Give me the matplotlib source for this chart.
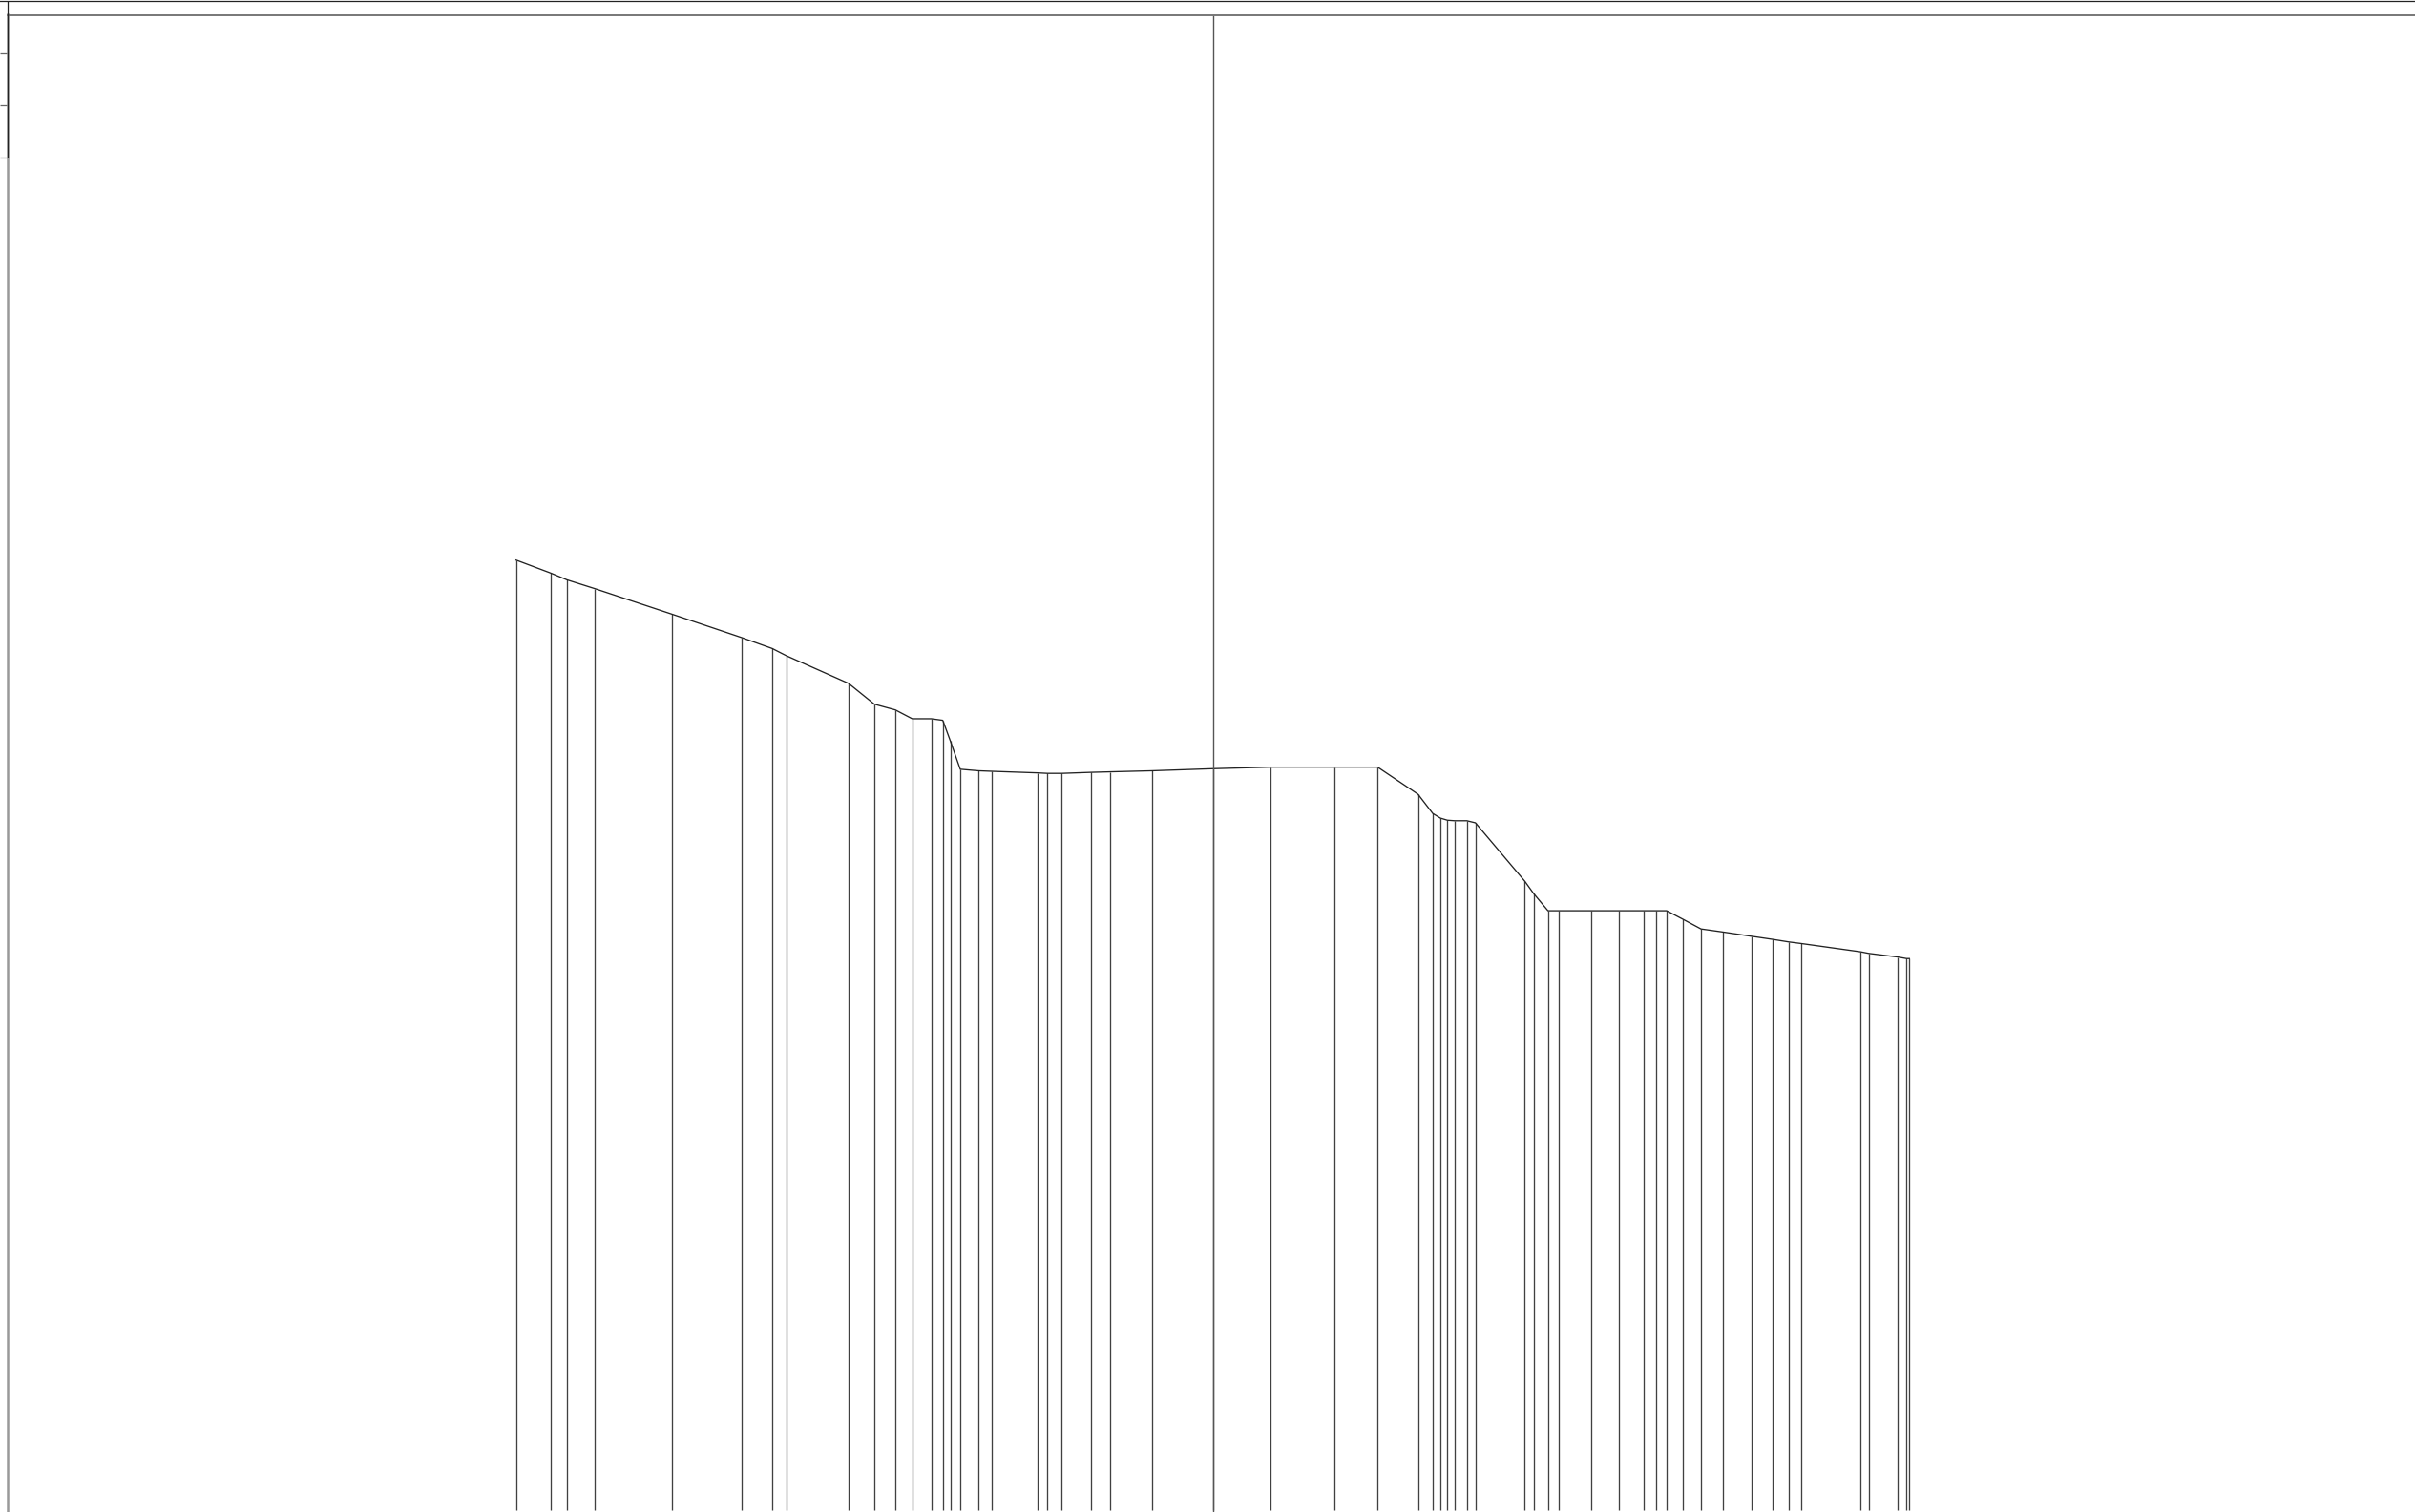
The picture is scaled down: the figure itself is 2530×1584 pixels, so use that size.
import matplotlib
matplotlib.use("Agg")
import matplotlib.pyplot as plt
from matplotlib.lines import Line2D

# stem positions and heights
x_vals = [54.07, 57.70, 59.40, 62.33, 70.40, 77.70, 80.90, 82.40, 88.90, 91.60,
          93.80, 95.57, 97.57, 98.77, 99.57, 100.60, 102.53, 103.93, 108.67, 109.73,
          111.23, 114.30, 116.33, 120.67, 127.07, 133.10, 139.83, 144.33, 148.55, 150.10,
          150.90, 151.63, 152.40, 153.67, 154.57, 159.73, 160.67, 162.17, 163.30, 166.70,
          169.57, 172.23, 173.50, 174.60, 176.27, 178.20, 180.53, 183.47, 185.70, 187.40,
          188.67, 194.93, 195.77, 198.83, 199.73, 200.03]
y_vals = [18.26, 18.01, 17.88, 17.71, 17.22, 16.77, 16.56, 16.42, 15.89, 15.49,
          15.38, 15.21, 15.21, 15.18, 14.78, 14.24, 14.21, 14.20, 14.17, 14.16,
          14.16, 14.18, 14.19, 14.21, 14.25, 14.28, 14.28, 14.28, 13.76, 13.39,
          13.30, 13.26, 13.25, 13.25, 13.21, 12.09, 11.85, 11.52, 11.52, 11.52,
          11.52, 11.52, 11.52, 11.52, 11.36, 11.17, 11.11, 11.03, 10.97, 10.92,
          10.89, 10.73, 10.70, 10.63, 10.60, 10.60]
y_ticks = [26, 27, 28]
marker_x = 127.07

W, H = 2530, 1584
fig = plt.figure(figsize=(W / 100, H / 100), dpi=100)
ax = fig.add_axes([8.0 / W, 0, 1 - 8.0 / W, 1 - 15.5 / H])
ax.set_xlim(0.8, 253)
ax.set_ylim(-0.037, 28.74)

# stems and the outline on top
ax.vlines(x_vals, 0, y_vals, color="#404040", lw=0.95)
ax.plot(x_vals, y_vals, color="#222222", lw=0.95)
ax.axvline(marker_x, color="#555555", lw=1.0)

# axis lines
for side in ["right", "bottom"]:
    ax.spines[side].set_visible(False)
ax.spines["top"].set_color("#777777")
ax.spines["top"].set_linewidth(1.4)
ax.spines["left"].set_color("#999999")
ax.spines["left"].set_linewidth(1.8)
ax.vlines(0.8, y_ticks[0], 29.0, color="#222222", lw=0.9, clip_on=False, zorder=3)

ax.set_xticks([])
ax.set_yticks(y_ticks)
ax.tick_params(axis="y", length=5.8, width=0.9, color="#666666", labelleft=False)
ax.yaxis.get_major_ticks()[0].tick1line.set_color("#111111")

# rule across the very top of the page
fig.add_artist(Line2D([0, 1], [1 - 1.2 / H, 1 - 1.2 / H], color="#222222", lw=0.9))

fig.savefig("out.png", dpi=100)
